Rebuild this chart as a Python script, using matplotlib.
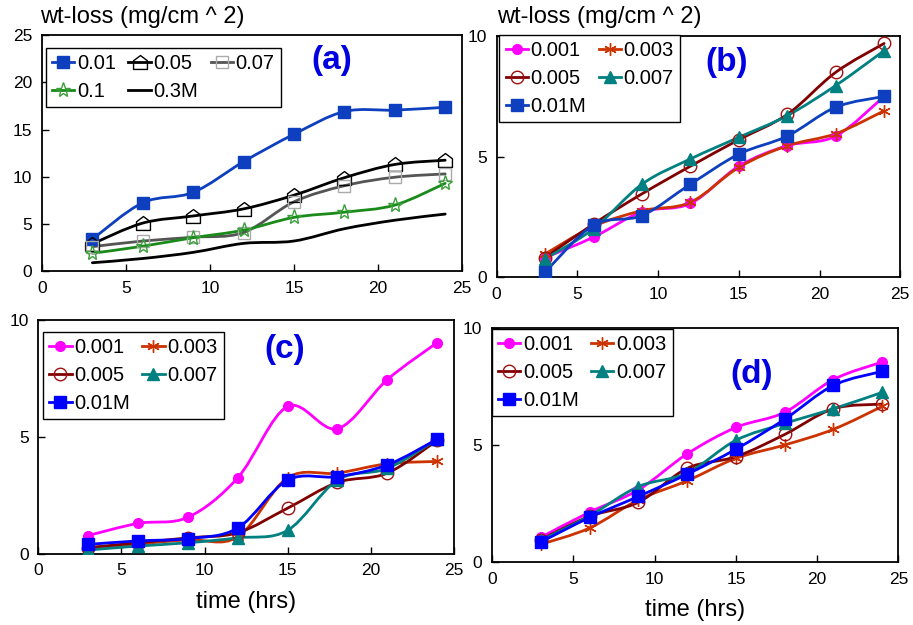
import numpy as np
import matplotlib
matplotlib.use("Agg")
import matplotlib.pyplot as plt
from matplotlib.path import Path
from matplotlib.patches import PathPatch
from matplotlib.lines import Line2D

plt.rcParams['font.family'] = ['Liberation Sans', 'DejaVu Sans']

# --- Data (time in hrs, wt-loss in mg/cm^2) ---
time_hrs = [3, 6, 9, 12, 15, 18, 21, 24]

# panel (a)
a_labels = ['0.01', '0.05', '0.07', '0.1', '0.3M']
a_001 = [3.4, 7.25, 8.35, 11.6, 14.5, 16.9, 17.05, 17.35]
a_005 = [2.9, 5.1, 5.85, 6.6, 8.05, 9.9, 11.3, 11.75]
a_007 = [2.6, 3.2, 3.6, 4.1, 7.35, 9.05, 9.95, 10.3]
a_01 = [1.9, 2.65, 3.55, 4.35, 5.7, 6.25, 7.0, 9.3]
a_03 = [0.9, 1.35, 2.0, 2.95, 3.2, 4.5, 5.4, 6.05]

# panels (b), (c), (d)
conc_labels = ['0.001', '0.003', '0.005', '0.007', '0.01M']
b_series = [
    [0.8, 1.65, 2.7, 3.05, 4.6, 5.45, 5.85, 7.5],
    [0.95, 2.1, 2.75, 3.1, 4.55, 5.45, 5.95, 6.9],
    [0.8, 2.2, 3.45, 4.6, 5.7, 6.75, 8.5, 9.7],
    [0.75, 2.0, 3.85, 4.9, 5.8, 6.7, 7.95, 9.4],
    [0.2, 2.15, 2.55, 3.85, 5.1, 5.85, 7.05, 7.5],
]
c_series = [
    [0.78, 1.3, 1.56, 3.25, 6.3, 5.35, 7.45, 9.03],
    [0.25, 0.42, 0.6, 0.72, 3.25, 3.45, 3.85, 3.95],
    [0.26, 0.47, 0.68, 0.9, 1.95, 3.05, 3.45, 4.85],
    [0.16, 0.33, 0.47, 0.68, 1.0, 3.15, 3.65, 4.9],
    [0.4, 0.55, 0.65, 1.1, 3.15, 3.3, 3.8, 4.9],
]
d_series = [
    [1.05, 2.13, 3.08, 4.62, 5.75, 6.4, 7.8, 8.55],
    [0.75, 1.45, 2.65, 3.47, 4.43, 5.0, 5.67, 6.65],
    [0.95, 1.95, 2.55, 4.0, 4.5, 5.45, 6.55, 6.75],
    [0.92, 1.97, 3.22, 3.8, 5.2, 5.92, 6.55, 7.25],
    [0.85, 1.9, 2.8, 3.75, 4.82, 6.1, 7.55, 8.15],
]

house = Path([(-1, -1), (1, -1), (1, 0.25), (0, 1), (-1, 0.25), (-1, -1)],
             [1, 2, 2, 2, 2, 79])

a_styles = [
    dict(color='#0d3fbf', marker='s', ms=9, mfc='#0d3fbf', mec='#0d3fbf'),
    dict(color='black', marker=house, ms=10, mfc='none', mec='black'),
    dict(color='#555555', marker='s', ms=9, mfc='none', mec='#aaaaaa'),
    dict(color='#1a8a1a', marker='*', ms=11, mfc='none', mec='#3aa03a'),
    dict(color='black', marker=None, ms=0, mfc='none', mec='black'),
]


def conc_styles(blue):
    return [
        dict(color='#ff00ff', marker='o', ms=7, mfc='#ff00ff', mec='#ff00ff'),
        dict(color='#cc3300', marker=(6, 2, 0), ms=9, mfc='none', mec='#cc3300'),
        dict(color='#800000', marker='o', ms=9, mfc='none', mec='#a01010'),
        dict(color='#008080', marker='^', ms=9, mfc='#008080', mec='#008080'),
        dict(color=blue, marker='s', ms=9, mfc=blue, mec=blue),
    ]


def smooth_line(ax, x, y, color, lw=2.0):
    # Excel-style smoothed line: Bezier segments through the data points
    pts = np.column_stack([x, y]).astype(float)
    n = len(pts)
    verts = [pts[0]]
    codes = [Path.MOVETO]
    for i in range(n - 1):
        p0 = pts[i - 1] if i > 0 else pts[i]
        p1 = pts[i]
        p2 = pts[i + 1]
        p3 = pts[i + 2] if i + 2 < n else pts[i + 1]
        verts += [p1 + (p2 - p0) / 6, p2 - (p3 - p1) / 6, p2]
        codes += [Path.CURVE4] * 3
    ax.add_patch(PathPatch(Path(verts, codes), fill=False, edgecolor=color,
                           lw=lw, zorder=2, capstyle='round', joinstyle='round'))


def draw_panel(ax, series, labels, styles, ymax, yticks, tag, tag_pos, leg_anchor,
               ncol, order):
    handles = []
    for vals, lab, st in zip(series, labels, styles):
        smooth_line(ax, time_hrs, vals, st['color'])
        if st['marker'] is not None:
            ax.plot(time_hrs, vals, ls='none', marker=st['marker'], ms=st['ms'],
                    mfc=st['mfc'], mec=st['mec'], mew=1.0, zorder=3)
        handles.append(Line2D([], [], color=st['color'], lw=2.0, marker=st['marker'],
                              ms=st['ms'] if st['marker'] is not None else 0,
                              mfc=st['mfc'], mec=st['mec'], mew=1.0, label=lab))
    ax.set_xlim(0, 25)
    ax.set_ylim(0, ymax)
    ax.set_xticks([0, 5, 10, 15, 20, 25])
    ax.set_yticks(yticks)
    ax.tick_params(direction='in', length=5, width=1, labelsize=12.5, pad=7,
                   colors='black')
    for sp in ax.spines.values():
        sp.set_linewidth(1.3)
    ax.text(tag_pos[0], tag_pos[1], tag, transform=ax.transAxes, fontsize=24,
            fontweight='bold', color='#0000e0', ha='center', va='center')
    # legend reads row by row in the reference
    leg = ax.legend(handles=[handles[i] for i in order], ncol=ncol, loc='upper left',
                    bbox_to_anchor=leg_anchor, borderaxespad=0, fontsize=14.5,
                    handlelength=1.1, handletextpad=0.15, columnspacing=0.6,
                    labelspacing=0.45, borderpad=0.3,
                    fancybox=False, edgecolor='black', framealpha=1)
    leg.get_frame().set_linewidth(1.0)


fig = plt.figure(figsize=(9.13, 6.25), dpi=100)
ax_a = fig.add_axes([0.046, 0.566, 0.460, 0.378])
ax_b = fig.add_axes([0.544, 0.557, 0.442, 0.385])
ax_c = fig.add_axes([0.042, 0.114, 0.455, 0.374])
ax_d = fig.add_axes([0.539, 0.101, 0.445, 0.374])

order5x2 = [0, 2, 4, 1, 3]
draw_panel(ax_a, [a_001, a_005, a_007, a_01, a_03], a_labels, a_styles, 25,
           [0, 5, 10, 15, 20, 25], '(a)', (0.69, 0.89), (0.01, 0.945), 3,
           [0, 3, 1, 4, 2])
draw_panel(ax_b, b_series, conc_labels, conc_styles('#0d3fbf'), 10, [0, 5, 10],
           '(b)', (0.57, 0.89), (0.007, 1.004), 2, order5x2)
draw_panel(ax_c, c_series, conc_labels, conc_styles('#0000ff'), 10, [0, 5, 10],
           '(c)', (0.594, 0.875), (0.012, 0.949), 2, order5x2)
draw_panel(ax_d, d_series, conc_labels, conc_styles('#0000ff'), 10, [0, 5, 10],
           '(d)', (0.638, 0.80), (0.0, 0.996), 2, order5x2)

fig.text(0.044, 0.972, 'wt-loss (mg/cm ^ 2)', fontsize=17, ha='left', va='center')
fig.text(0.544, 0.972, 'wt-loss (mg/cm ^ 2)', fontsize=17, ha='left', va='center')
ax_c.set_xlabel('time (hrs)', fontsize=17, labelpad=9)
ax_d.set_xlabel('time (hrs)', fontsize=17, labelpad=9)

fig.savefig('out.png', dpi=100)
